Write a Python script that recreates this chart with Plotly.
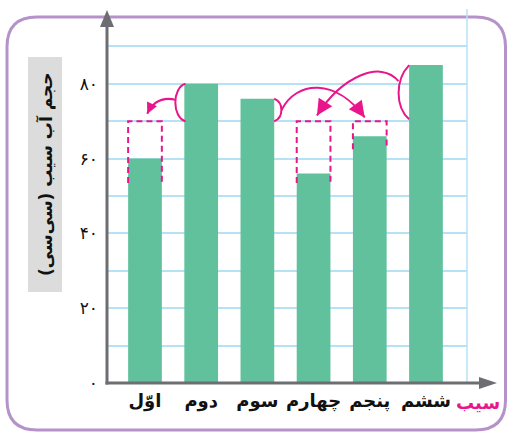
import plotly.graph_objects as go

# ---------------- data ----------------
categories = ['اوّل', 'دوم', 'سوم', 'چهارم', 'پنجم', 'ششم']
volumes = [60, 80, 76, 56, 66, 85]
y_tick_values = [0, 10, 20, 30, 40, 50, 60, 70, 80, 90, 100]
y_tick_labels = ['۰', '', '۲۰', '', '۴۰', '', '۶۰', '', '۸۰', '', '']
target_level = 70
box_bars = [0, 3, 4]
box_bottoms = [53.5, 53.5, 62.5]
x_title = 'سیب'
y_title = 'حجم آب سیب (سی‌سی)'

# ---------------- geometry / style ----------------
W, H = 507, 432
L, R, T, B = 107, 40, 9, 49
PW, PH = W - L - R, H - T - B
FONT = 'DejaVu Sans'
BAR = '#60c19c'
PINK = '#e8168a'
GRID = '#b6e2f6'
AXIS = '#6d6e71'
PURPLE = '#b592c9'


def px(x):
    return (x - L) / PW


def py(y):
    return (H - B - y) / PH


x = list(range(len(categories)))
fig = go.Figure(go.Bar(x=x, y=volumes, width=0.6,
                       marker=dict(color=BAR, line=dict(width=0)),
                       hoverinfo='skip'))

shapes = []
# purple rounded frame
x0, x1, y0, y1, r = 7, 505.5, 17, 430, 30
path = (f"M {px(x0)},{py(y0 + r)} Q {px(x0)},{py(y0)} {px(x0 + r)},{py(y0)} "
        f"L {px(x1 - r)},{py(y0)} Q {px(x1)},{py(y0)} {px(x1)},{py(y0 + r)} "
        f"L {px(x1)},{py(y1 - r)} Q {px(x1)},{py(y1)} {px(x1 - r)},{py(y1)} "
        f"L {px(x0 + r)},{py(y1)} Q {px(x0)},{py(y1)} {px(x0)},{py(y1 - r)} Z")
shapes.append(dict(type='path', xref='paper', yref='paper', path=path,
                   line=dict(color=PURPLE, width=3), layer='below'))
# grey box behind y title
shapes.append(dict(type='rect', xref='paper', yref='paper',
                   x0=px(28), x1=px(62), y0=py(292), y1=py(57),
                   fillcolor='#dcdcdc', line=dict(width=0), layer='below'))
# right grid border
shapes.append(dict(type='line', xref='paper', yref='paper', x0=1, x1=1, y0=0, y1=1,
                   line=dict(color=GRID, width=1.5), layer='below'))
# axes
shapes.append(dict(type='line', xref='paper', yref='paper',
                   x0=px(107), x1=px(107), y0=py(384.5), y1=py(25),
                   line=dict(color=AXIS, width=3)))
shapes.append(dict(type='path', xref='paper', yref='paper',
                   path=f"M {px(107)},{py(10)} L {px(100)},{py(27)} L {px(114)},{py(27)} Z",
                   fillcolor=AXIS, line=dict(width=0)))
shapes.append(dict(type='line', xref='paper', yref='paper',
                   x0=px(105.5), x1=px(482), y0=py(383), y1=py(383),
                   line=dict(color=AXIS, width=3)))
shapes.append(dict(type='path', xref='paper', yref='paper',
                   path=f"M {px(497)},{py(383)} L {px(479)},{py(377)} L {px(479)},{py(389)} Z",
                   fillcolor=AXIS, line=dict(width=0)))

# dashed target boxes (open at bottom)
for i, bot in zip(box_bars, box_bottoms):
    shapes.append(dict(type='path', xref='x', yref='y',
                       path=f"M {i-0.3},{bot} L {i-0.3},{target_level} L {i+0.3},{target_level} L {i+0.3},{bot}",
                       line=dict(color=PINK, width=2, dash='6px,4px')))

# brackets and curved arrows
curves = [
    "M 0.72,80 C 0.48,79 0.48,71 0.72,70",
    "M 0.55,75.7 Q 0.2,77 0.04,72",
    "M 2.3,76 C 2.47,75 2.47,71 2.3,70",
    "M 2.43,73 C 2.7,81 3.4,81.5 3.91,71",
    "M 4.7,85 C 4.45,81 4.45,74 4.7,70.5",
    "M 4.51,80.7 C 4.2,86.5 3.5,82 3.06,71.5",
]
for c in curves:
    shapes.append(dict(type='path', xref='x', yref='y', path=c,
                       line=dict(color=PINK, width=2)))

annotations = []
heads = [((0.04, 72), (0.2, 77), 1.1), ((3.91, 71), (3.4, 81.5), 1.6),
         ((3.06, 71.5), (3.5, 82), 1.6)]
for (tx, ty), (cx, cy), sz in heads:
    dxp, dyp = (tx - cx) * 56.2, (cy - ty) * 3.74
    n = (dxp ** 2 + dyp ** 2) ** 0.5
    back = 10
    ax = tx - back * dxp / n / 56.2
    ay = ty + back * dyp / n / 3.74
    annotations.append(dict(x=tx, y=ty, ax=ax, ay=ay, axref='x', ayref='y',
                            xref='x', yref='y', text='', showarrow=True,
                            arrowhead=2, arrowsize=sz, arrowwidth=2,
                            arrowcolor=PINK, standoff=0))

annotations.append(dict(text=f"<b>{y_title}</b>", xref='paper', yref='paper',
                        x=px(45), y=py(174), textangle=-90, showarrow=False,
                        font=dict(family=FONT, size=17, color='#111111'),
                        xanchor='center', yanchor='middle'))
annotations.append(dict(text=f"<b>{x_title}</b>", xref='paper', yref='paper',
                        x=px(478), y=py(402), showarrow=False,
                        font=dict(family=FONT, size=18, color=PINK),
                        xanchor='center', yanchor='middle'))

fig.update_layout(
    width=W, height=H,
    margin=dict(l=L, r=R, t=T, b=B, pad=0),
    plot_bgcolor='white', paper_bgcolor='white',
    showlegend=False,
    shapes=shapes, annotations=annotations,
    xaxis=dict(range=[-0.676, 5.73], tickmode='array', tickvals=x,
               ticktext=[f"<b>{c}</b>" for c in categories],
               tickfont=dict(family=FONT, size=18, color='#111111'),
               showgrid=False, zeroline=False, showline=False, ticks='',
               ticklabelstandoff=5, fixedrange=True),
    yaxis=dict(range=[0, 100], tickmode='array', tickvals=y_tick_values,
               ticktext=y_tick_labels,
               tickfont=dict(family=FONT, size=17, color='#111111'),
               showgrid=True, gridcolor=GRID, gridwidth=1.5,
               zeroline=False, showline=False, ticks='',
               ticklabelstandoff=8, fixedrange=True),
)

fig.write_html("out.html", config={'displayModeBar': False},
               post_script="document.body.style.margin='0';document.body.style.overflow='hidden';")
